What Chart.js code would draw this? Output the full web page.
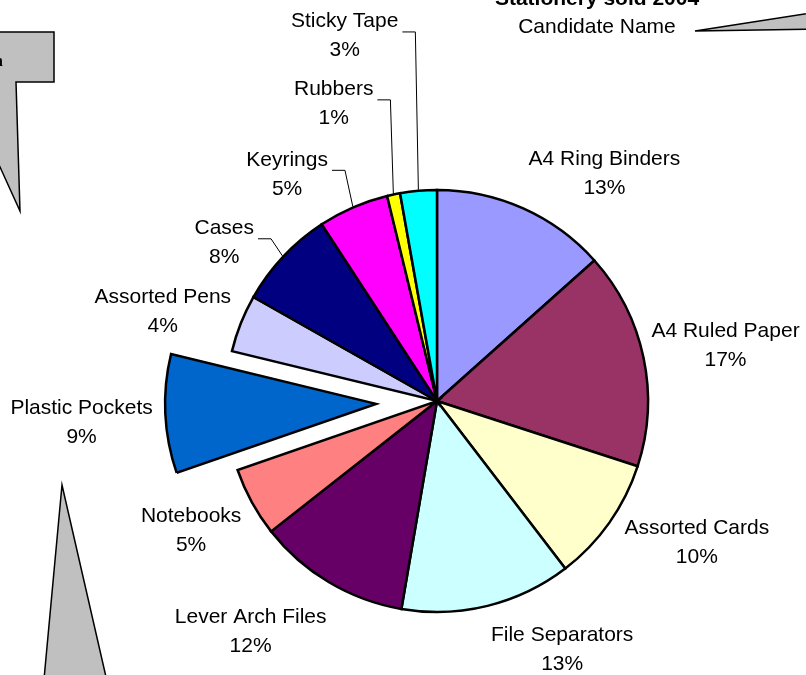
<!DOCTYPE html>
<html>
<head>
<meta charset="utf-8">
<script src="https://cdn.jsdelivr.net/npm/chart.js@4.4.0/dist/chart.umd.min.js"></script>
<style>
  html, body { margin: 0; padding: 0; background: #fff; }
  canvas { display: block; }
</style>
</head>
<body>
<canvas id="stationery" width="806" height="675"></canvas>
<script>
var categories = ["A4 Ring Binders", "A4 Ruled Paper", "Assorted Cards", "File Separators", "Lever Arch Files", "Notebooks",
                  "Plastic Pockets", "Assorted Pens", "Cases", "Keyrings", "Rubbers", "Sticky Tape"];
var unitsSold = [134, 166, 96, 131, 117, 53, 91, 44, 76, 54, 10, 28];
var titleText = "Stationery sold 2004";
var subtitleText = "Candidate Name";

// old Excel palette
var sliceColours = ['#9999FF', '#993366', '#FFFFCC', '#CCFFFF', '#660066', '#FF8080',
                    '#0066CC', '#CCCCFF', '#000080', '#FF00FF', '#FFFF00', '#00FFFF'];
var explode = [0, 0, 0, 0, 0, 0, 61, 0, 0, 0, 0, 0]; // px the slice is pulled out
// label placement: [angle shift in deg (clockwise), distance from slice centre, leader line?]
var labelPlace = [
  [12, 284, false], [0.8, 294, false], [-7, 295, false], [-13, 277, false],
  [8.4, 295, false], [1.2, 277, false], [-0.7, 295, false], [-3.2, 289, false],
  [-6.3, 266, true], [-9.9, 273, true], [-7.2, 316, true], [-9.1, 378, true]
];

var FONT = '21px "Liberation Sans", Arial, sans-serif';
var total = unitsSold.reduce(function (a, b) { return a + b; }, 0);

// pull exploded slices away from the centre
var explodePlugin = {
  id: 'explode',
  afterDatasetsUpdate: function (chart) {
    chart.getDatasetMeta(0).data.forEach(function (arc, i) {
      if (!explode[i]) return;
      var mid = (arc.startAngle + arc.endAngle) / 2;
      arc.x += Math.cos(mid) * explode[i];
      arc.y += Math.sin(mid) * explode[i];
    });
  }
};

// data labels with leader lines, titles and the grey callout shapes
var decorPlugin = {
  id: 'decor',
  afterDatasetsDraw: function (chart) {
    var ctx = chart.ctx;
    ctx.save();
    ctx.font = FONT;
    ctx.fillStyle = '#000';
    ctx.textAlign = 'center';
    ctx.textBaseline = 'alphabetic';
    chart.getDatasetMeta(0).data.forEach(function (arc, i) {
      var mid = (arc.startAngle + arc.endAngle) / 2;
      var p = labelPlace[i];
      var a = mid + p[0] * Math.PI / 180;
      var cx = arc.x + Math.cos(a) * p[1];
      var cy = arc.y + Math.sin(a) * p[1];
      var pct = Math.round(unitsSold[i] / total * 100) + '%';
      ctx.fillText(categories[i], cx, cy - 14.5 + 7.5);
      ctx.fillText(pct, cx, cy + 14.5 + 7.5);
      if (p[2]) {
        var w = Math.max(ctx.measureText(categories[i]).width, ctx.measureText(pct).width);
        var x0 = cx + w / 2 + 4, y0 = cy - 2.5;
        var ex = arc.x + Math.cos(mid) * (arc.outerRadius + 1);
        var ey = arc.y + Math.sin(mid) * (arc.outerRadius + 1);
        ctx.beginPath();
        ctx.lineWidth = 1;
        ctx.strokeStyle = '#000';
        ctx.moveTo(x0, y0);
        ctx.lineTo(x0 + 13, y0);
        ctx.lineTo(ex, ey);
        ctx.stroke();
      }
    });

    // titles
    ctx.font = 'bold ' + FONT;
    ctx.fillText(titleText, 597, 5);
    ctx.font = FONT;
    ctx.fillText(subtitleText, 597, 33);

    // callout shapes
    ctx.fillStyle = '#C0C0C0';
    ctx.strokeStyle = '#000';
    ctx.lineWidth = 1.5;
    ctx.lineJoin = 'miter';
    function shape(pts) {
      ctx.beginPath();
      ctx.moveTo(pts[0][0], pts[0][1]);
      for (var k = 1; k < pts.length; k++) ctx.lineTo(pts[k][0], pts[k][1]);
      ctx.closePath();
      ctx.fill();
      ctx.stroke();
    }
    shape([[-10, 32], [54, 32], [54, 82], [16, 82], [20, 211], [-10, 145]]);
    shape([[62, 485], [109, 690], [43, 690]]);
    shape([[695, 31], [830, 10], [830, 29]]);
    ctx.fillStyle = '#000';
    ctx.font = 'bold 16px "Liberation Serif", serif';
    ctx.textAlign = 'left';
    ctx.fillText('n', -6, 66);
    ctx.restore();
  }
};

var ctx = document.getElementById("stationery").getContext('2d');

var pie = new Chart(ctx, {
  type: 'pie',
  data: {
    labels: categories,
    datasets: [{
      data: unitsSold,
      backgroundColor: sliceColours,
      borderColor: '#000',
      borderWidth: 2.5,
      borderJoinStyle: 'miter'
    }]
  },
  options: {
    responsive: false,
    devicePixelRatio: 1,
    animation: false,
    radius: 211,
    layout: { padding: { left: 68, right: 0, top: 127, bottom: 0 } },
    plugins: {
      legend: { display: false },
      tooltip: { enabled: false }
    }
  },
  plugins: [explodePlugin, decorPlugin]
});
</script>
</body>
</html>
